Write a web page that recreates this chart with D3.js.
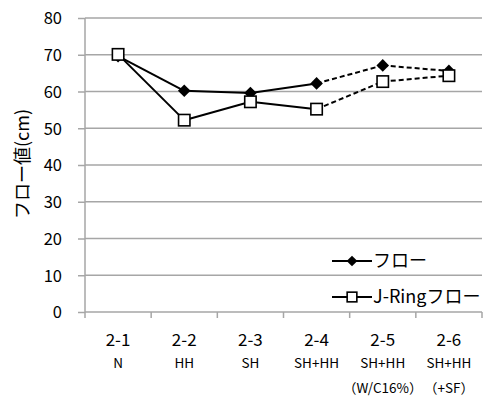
<!DOCTYPE html>
<html><head><meta charset="utf-8">
<script src="https://cdn.jsdelivr.net/npm/d3@7"></script>
<style>body{margin:0;background:#fff}svg{display:block}text{font-family:"Noto Sans CJK JP","Noto Sans",sans-serif;fill:#000}</style>
</head><body><svg id="c" width="488" height="398"></svg>
<script>
const categories = ["2-1","2-2","2-3","2-4","2-5","2-6"];
const subLabels1 = ["N","HH","SH","SH+HH","SH+HH","SH+HH"];
const subLabels2 = ["","","","","（W/C16%）","（+SF）"];
const flow = [69.6, 60.2, 59.6, 62.2, 67.1, 65.6];
const jring = [70.1, 52.2, 57.2, 55.2, 62.7, 64.3];
const yTicks = [0,10,20,30,40,50,60,70,80];
const seriesNames = ["フロー","J-Ringフロー"];
const yTitle = "フロー値(cm)";

const svg = d3.select("#c");
const L=85,R=482,T=18,B=312;
const x = d3.scaleBand().domain(categories).range([L,R]);
const y = d3.scaleLinear().domain([0,80]).range([B,T]);
const grid="#a6a6a6";

svg.append("g").selectAll("line").data(yTicks.filter(d=>d>0)).join("line")
  .attr("x1",L).attr("x2",R).attr("y1",d=>y(d)).attr("y2",d=>y(d))
  .attr("stroke",grid).attr("stroke-width",1.5);

const ya = svg.append("g").attr("transform",`translate(${L},0)`).call(d3.axisLeft(y).tickValues(yTicks).tickSize(7).tickPadding(16));
ya.select(".domain").attr("stroke",grid).attr("stroke-width",1.5).attr("d",`M0,${T}V${B}`);
ya.selectAll(".tick line").attr("stroke",grid).attr("stroke-width",1.5);
ya.selectAll(".tick text").style("font-size","16.5px").attr("fill","#000").attr("dy","0.35em");

const xa = svg.append("g").attr("transform",`translate(0,${B})`);
xa.append("line").attr("x1",L).attr("x2",R).attr("stroke",grid).attr("stroke-width",1.5);
const bounds = categories.map(c=>x(c)).concat([R]);
xa.selectAll("line.t").data(bounds).join("line").attr("class","t")
  .attr("x1",d=>d).attr("x2",d=>d).attr("y1",0).attr("y2",6).attr("stroke",grid).attr("stroke-width",1.5);
const cx = c=>x(c)+x.bandwidth()/2;
xa.selectAll("text.a").data(categories).join("text").attr("class","a")
  .attr("x",d=>cx(d)).attr("y",34).attr("text-anchor","middle").style("font-size","17px").text(d=>d);
xa.selectAll("text.b").data(subLabels1).join("text").attr("class","b")
  .attr("x",(d,i)=>cx(categories[i])).attr("y",56).attr("text-anchor","middle").style("font-size","13.5px").text(d=>d);
xa.selectAll("text.c").data(subLabels2).join("text").attr("class","c")
  .attr("x",(d,i)=>cx(categories[i])).attr("y",81).attr("text-anchor","middle").style("font-size","13.5px").text(d=>d);

svg.append("text").attr("transform",`translate(23,164) rotate(-90)`).attr("text-anchor","middle").attr("dy","0.35em")
  .style("font-size","18px").text(yTitle);

function drawSeries(vals){
  const pts = vals.map((v,i)=>[cx(categories[i]), y(v)]);
  const g = svg.append("g");
  for(let i=0;i<pts.length-1;i++){
    g.append("line").attr("x1",pts[i][0]).attr("y1",pts[i][1]).attr("x2",pts[i+1][0]).attr("y2",pts[i+1][1])
      .attr("stroke","#000").attr("stroke-width",2).attr("stroke-dasharray", i>=3 ? "5,3" : null);
  }
  return pts;
}
function marker(g,px,py,type,s){
  s = s||1;
  if(type==="d"){
    const h=6.3*s;
    g.append("path").attr("d",`M${px},${py-h}L${px+h},${py}L${px},${py+h}L${px-h},${py}Z`).attr("fill","#000");
  } else {
    const h=5.7*s;
    g.append("rect").attr("x",px-h).attr("y",py-h).attr("width",2*h).attr("height",2*h)
      .attr("fill","#fff").attr("stroke","#000").attr("stroke-width",1.6);
  }
}
const p1 = drawSeries(flow);
const mg1 = svg.append("g"); p1.forEach(p=>marker(mg1,p[0],p[1],"d"));
const p2 = drawSeries(jring);
const mg2 = svg.append("g"); p2.forEach(p=>marker(mg2,p[0],p[1],"s"));

const lg = svg.append("g");
[[261,"d"],[297,"s"]].forEach(([ly,t],i)=>{
  lg.append("line").attr("x1",332).attr("x2",372).attr("y1",ly).attr("y2",ly).attr("stroke","#000").attr("stroke-width",2);
  marker(lg,352,ly,t,0.85);
  lg.append("text").attr("x",373).attr("y",ly).attr("dy","0.35em").style("font-size","18px").text(seriesNames[i]);
});
</script></body></html>
